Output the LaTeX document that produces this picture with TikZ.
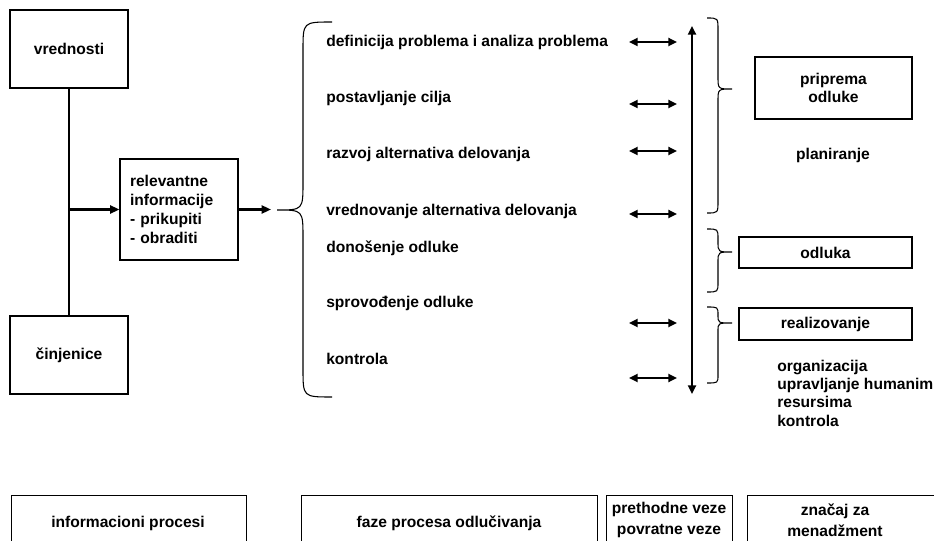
\documentclass[tikz,border=0pt]{standalone}
\usepackage{fontspec}
\setmainfont{Liberation Sans}
\usetikzlibrary{arrows.meta}

% curly brace: spine x, tip x, end x, top y, tip y, bottom y, curl radius
\newcommand{\curlybrace}[7]{%
  \draw[brace line] (#3,#4) .. controls (#1,#4) .. (#1,{#4+#7})
    -- (#1,{#5-#7}) .. controls (#1,#5) .. (#2,#5)
    .. controls (#1,#5) .. (#1,{#5+#7})
    -- (#1,{#6-#7}) .. controls (#1,#6) .. (#3,#6);}

\begin{document}
\begin{tikzpicture}[x=0.75pt,y=-0.75pt,
  every node/.style={font=\bfseries\fontsize{11.7}{14}\selectfont, inner sep=0pt},
  box/.style={draw, line width=0.8pt},
  brace line/.style={line width=0.8pt},
  heavy/.style={line width=1.6pt},
  onearrow/.style={heavy, -{Triangle[length=7pt,width=6pt]}},
  twoarrow/.style={heavy, {Triangle[length=6.5pt,width=6pt]}-{Triangle[length=6.5pt,width=6pt]}},
  rowtext/.style={anchor=west}]

\useasboundingbox (0,0) rectangle (934,541);
\clip (0,0) rectangle (934,541);

% information side
\node[box, minimum width=88.5pt, minimum height=58.5pt] (vr) at (69,49) {vrednosti};
\node[box, minimum width=88.5pt, minimum height=58.5pt] (cin) at (69,355) {činjenice};
\node[box, minimum height=75.75pt, text width=73.5pt, inner xsep=7.5pt, align=left,
      font=\bfseries\fontsize{11.7}{14.25}\selectfont] (rel) at (179,209.5)
  {relevantne\\informacije\\- prikupiti\\- obraditi};
\draw[heavy] (vr.south) -- (cin.north);
\coordinate (join) at (vr.south |- rel.west);
\draw[onearrow] (join) -- (rel.west);
\coordinate (btip) at (271,209.5);
\draw[onearrow] (rel.east) -- (btip);

% phases of the decision process
\curlybrace{303}{277}{332}{22}{210}{397}{28}
\node[rowtext] (p1) at (326,42) {definicija problema i analiza problema};
\node[rowtext] (p2) at (326,98) {postavljanje cilja};
\node[rowtext] (p3) at (326,154) {razvoj alternativa delovanja};
\node[rowtext] (p4) at (326,211) {vrednovanje alternativa delovanja};
\node[rowtext] (p5) at (326,248) {donošenje odluke};
\node[rowtext] (p6) at (326,303) {sprovođenje odluke};
\node[rowtext] (p7) at (326,359) {kontrola};

% forward and feedback links
\foreach \n/\y in {1/42, 2/104, 3/151, 4/214, 5/323, 6/378} {
  \coordinate (la\n) at (629,\y);
  \coordinate (lb\n) at (677,\y);
  \draw[twoarrow] (la\n) -- (lb\n);
}
\coordinate (vtop) at (692,26);
\coordinate (vbot) at (692,394);
\draw[twoarrow] (vtop) -- (vbot);

% management side
\curlybrace{718}{732}{707}{18}{89}{213}{12}
\curlybrace{718}{732}{707}{229}{252}{292}{10}
\curlybrace{718}{732}{707}{307}{323}{383}{8}
\node[box, minimum width=117.75pt, minimum height=46.5pt, align=center,
      font=\bfseries\fontsize{11.7}{13.5}\selectfont] (prip) at (833.5,88) {priprema\\odluke};
\node (plan) at (833,155) {planiranje};
\node[box, minimum width=129.75pt, minimum height=23.25pt] (odl) at (825.5,252.5) {odluka};
\node[box, minimum width=129.75pt, minimum height=24pt] (real) at (825.5,324) {realizovanje};
\node[anchor=west, align=left, font=\bfseries\fontsize{11.7}{13.75}\selectfont] (org) at (777,393)
  {organizacija\\upravljanje humanim\\resursima\\kontrola};

% column headings
\node[box, minimum width=176.25pt, minimum height=60pt, anchor=north west] (h1) at (11,495) {};
\node[box, minimum width=222pt, minimum height=60pt, anchor=north west] (h2) at (301,495) {};
\node[box, minimum width=94.5pt, minimum height=60pt, anchor=north west] (h3) at (606,495) {};
\node[box, minimum width=160pt, minimum height=60pt, anchor=north west] (h4) at (747,495) {};
\node (t1) at (128,523) {informacioni procesi};
\node (t2) at (449,523) {faze procesa odlučivanja};
\node[align=center, font=\bfseries\fontsize{11.7}{15.75}\selectfont] (t3) at (669,520) {prethodne veze\\povratne veze};
\node[align=center, font=\bfseries\fontsize{11.7}{15.75}\selectfont] (t4) at (835,520) {značaj za\\menadžment};
\end{tikzpicture}
\end{document}
